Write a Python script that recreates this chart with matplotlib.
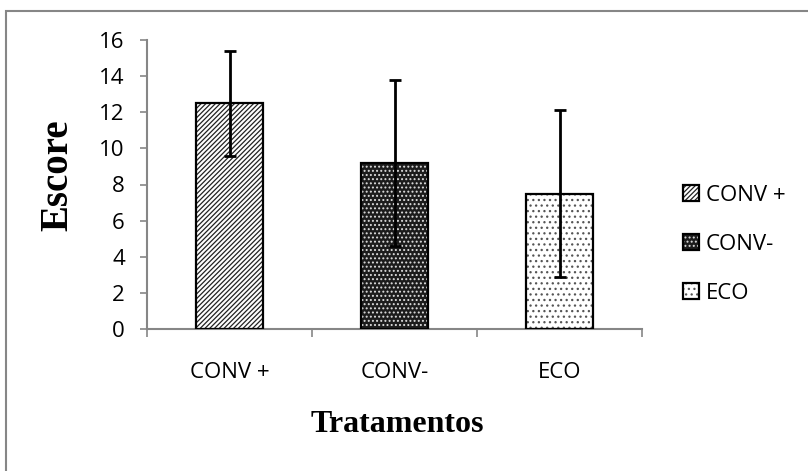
import matplotlib
matplotlib.use("Agg")
import matplotlib.pyplot as plt
from matplotlib.patches import Patch, Rectangle
from matplotlib.legend_handler import HandlerTuple

# data
treatments = ["CONV +", "CONV-", "ECO"]
scores = [12.5, 9.2, 7.5]
errors = [2.9, 4.6, 4.6]

# bar styles: face colour, hatch, hatch colour
faces = ["white", "#1c1c1c", "white"]
hatches = ["///////", "....", "..."]
hatch_cols = ["#222222", "#dddddd", "#555555"]

gray = "#868686"
tick_font = "Open Sans"
label_font = "Liberation Serif"

plt.rcParams["hatch.linewidth"] = 0.9

fig = plt.figure(figsize=(8.08, 4.71), dpi=100)
ax = fig.add_axes([147 / 808, 1 - 329 / 471, (642 - 147) / 808, (329 - 40) / 471])

x = [i + 0.5 for i in range(len(treatments))]
handles = []
for xi, s, f, h, hc in zip(x, scores, faces, hatches, hatch_cols):
    ax.bar(xi, s, width=0.41, color=f, hatch=h, edgecolor=hc, linewidth=0, zorder=2)
    ax.bar(xi, s, width=0.41, fill=False, edgecolor="black", linewidth=1.6, zorder=3)
    handles.append((Patch(facecolor=f, hatch=h, edgecolor=hc, linewidth=0),
                    Patch(fill=False, edgecolor="black", linewidth=1.6)))

ax.errorbar(x, scores, yerr=errors, fmt="none", ecolor="black",
            elinewidth=2.0, capsize=4.5, capthick=2.0, zorder=4)

ax.set_xlim(0, 3)
ax.set_ylim(0, 16)
ax.set_yticks(range(0, 17, 2))
ax.set_xticks([0, 1, 2, 3])
ax.set_xticklabels([])
ax.set_xticks(x, minor=True)
ax.set_xticklabels(treatments, minor=True, fontfamily=tick_font, fontsize=16)
ax.tick_params(axis="x", which="major", length=6, width=1.2, color=gray, direction="out")
ax.tick_params(axis="x", which="minor", length=0, pad=24)
ax.tick_params(axis="y", length=5, width=1.2, color=gray, direction="out", pad=11)
for lab in ax.get_yticklabels():
    lab.set_fontfamily(tick_font)
    lab.set_fontsize(16)

for side in ["top", "right"]:
    ax.spines[side].set_visible(False)
for side in ["left", "bottom"]:
    ax.spines[side].set_color(gray)
    ax.spines[side].set_linewidth(1.5)

fig.text(58 / 808, 1 - 175 / 471, "Escore", rotation=90, ha="center", va="center",
         fontfamily=label_font, fontweight="bold", fontsize=28)
fig.text(397 / 808, 1 - 425 / 471, "Tratamentos", ha="center", va="center",
         fontfamily=label_font, fontweight="bold", fontsize=23)

fig.legend(handles, treatments, handler_map={tuple: HandlerTuple(ndivide=1)},
           loc="upper left", bbox_to_anchor=(683 / 808, 1 - 185 / 471),
           frameon=False, prop={"family": tick_font, "size": 16},
           handlelength=0.72, handleheight=0.72, handletextpad=0.3,
           labelspacing=1.25, borderpad=0, borderaxespad=0)

# chart area outline (only top and left edges fall inside the image)
fig.add_artist(Rectangle((6 / 808, -0.2), 1.2, 1.2 - 11 / 471,
                         transform=fig.transFigure, fill=False,
                         edgecolor=gray, linewidth=1.5, clip_on=False))

fig.savefig("out.png", dpi=100)
